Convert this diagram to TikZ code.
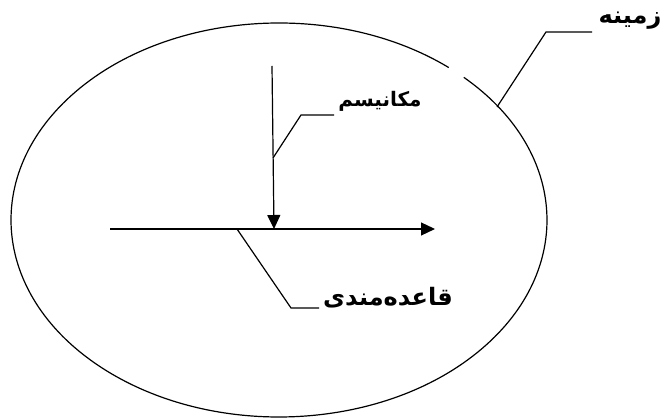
\documentclass[tikz,border=0pt]{standalone}
\usepackage{fontspec}
\usetikzlibrary{arrows.meta}
\TeXXeTstate=1
\newfontfamily\arabicfont[Script=Arabic]{DejaVu Sans Bold}
\begin{document}
\begin{tikzpicture}[x=1pt,y=1pt,
  ln/.style={line width=1.2pt},
  arr/.style={ln,-{Triangle[length=14pt,width=13pt]}},
  lbl/.style={inner sep=0pt,font=\arabicfont}]
\useasboundingbox (0,0) rectangle (664,420);
% ellipse with small gap
\draw[ln] (279,200) ++(50.7:268 and 197) arc[start angle=50.7,end angle=406.4,x radius=268,y radius=197];
\coordinate (eP) at (497,313);
% main arrows
\coordinate (hS) at (110,191);
\coordinate (hE) at (435,191);
\draw[arr] (hS) -- (hE);
\coordinate (vS) at (272,354);
\coordinate (vE) at (274,191);
\draw[arr] (vS) -- (vE);
% labels
\node[lbl,font=\arabicfont\fontsize{20}{24}\selectfont] (mech) at (380,319) {\beginR مکانیسم\endR};
\node[lbl,font=\arabicfont\fontsize{24}{28}\selectfont] (rule) at (388,122) {\beginR قاعده‌مندی\endR};
\node[lbl,font=\arabicfont\fontsize{24}{28}\selectfont] (ctx) at (630,399) {\beginR زمینه\endR};
% leaders
\coordinate (mA) at (273,262);
\coordinate (mB) at (301,305);
\coordinate (mC) at (334,305);
\draw[ln] (mA) -- (mB) -- (mC);
\coordinate (rA) at (237,191);
\coordinate (rB) at (291,112);
\coordinate (rC) at (319,112);
\draw[ln] (rA) -- (rB) -- (rC);
\coordinate (cB) at (546,388);
\coordinate (cC) at (592,388);
\draw[ln] (eP) -- (cB) -- (cC);
\end{tikzpicture}
\end{document}
